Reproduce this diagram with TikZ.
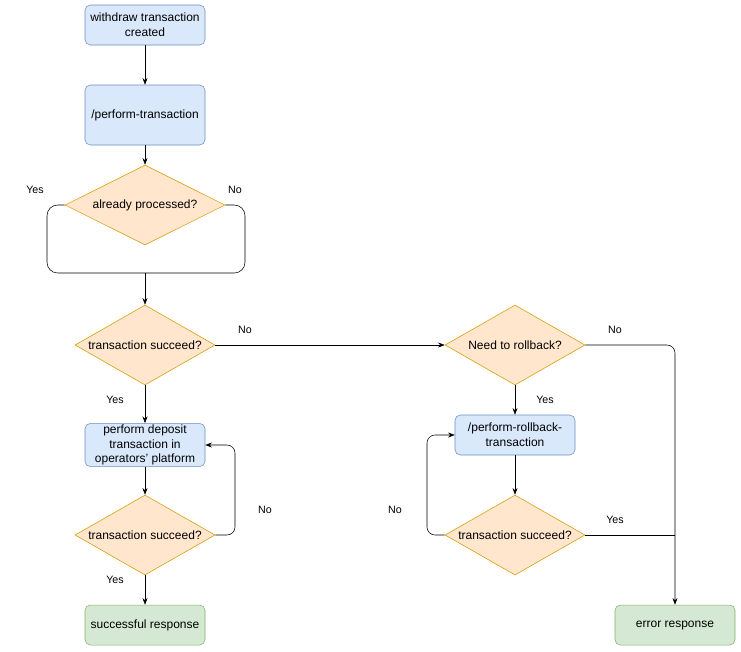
\documentclass[tikz,border=0pt]{standalone}
\usepackage{fontspec}
\setmainfont{Liberation Sans}
\usetikzlibrary{shapes.geometric,arrows.meta}
\definecolor{bfill}{HTML}{DAE8FC}\definecolor{bline}{HTML}{6C8EBF}
\definecolor{ofill}{HTML}{FFE6CC}\definecolor{oline}{HTML}{D79B00}
\definecolor{gfill}{HTML}{D5E8D4}\definecolor{gline}{HTML}{82B366}
\tikzset{
  box/.style={draw=bline,fill=bfill,rounded corners=4pt,minimum width=90pt,align=center,inner sep=1pt},
  okbox/.style={box,draw=gline,fill=gfill},
  dia/.style={diamond,draw=oline,fill=ofill,inner sep=0pt,minimum width=105pt,minimum height=60pt},
  arr/.style={-{Stealth[length=5pt]},rounded corners=6pt},
  lbl/.style={font=\footnotesize}
}
\begin{document}
\begin{tikzpicture}[x=0.75pt,y=-0.75pt,font=\small]
\useasboundingbox (0,0) rectangle (741,651);

\node[box,minimum height=30pt] (created) at (145,25) {withdraw transaction\\created};
\node[box,minimum height=45pt] (perform) at (145,115) {/perform-transaction};
\node[dia,minimum width=120pt,label=center:{already processed?}] (processed) at (145,205) {};
\node[dia,label=center:{transaction succeed?}] (succ1) at (145,345) {};
\node[box,minimum height=30pt] (deposit) at (145,445) {perform deposit\\transaction in\\operators' platform};
\node[dia,label=center:{transaction succeed?}] (succ2) at (145,535) {};
\node[okbox,minimum height=30pt] (success) at (145,625) {successful response};

\node[dia,label=center:{Need to rollback?}] (rollback) at (515,345) {};
\node[box,minimum height=30pt] (perfrb) at (515,435) {/perform-rollback-\\transaction};
\node[dia,label=center:{transaction succeed?}] (succ3) at (515,535) {};
\node[okbox,minimum height=30pt] (error) at (675,625) {error response};

\coordinate (merge) at (145,273);
\coordinate (join) at (675,535);

% left column
\draw[arr] (created) -- (perform);
\draw[arr] (perform) -- (processed);
\draw[rounded corners=8pt] (processed.west) -- (47,205) -- (47,273) -- (merge);
\draw[rounded corners=8pt] (processed.east) -- (245,205) -- (245,273) -- (merge);
\draw[arr] (merge) -- (succ1);
\draw[arr] (succ1) -- (deposit);
\draw[arr] (deposit) -- (succ2);
\draw[arr] (succ2.east) -- (235,535) -- (235,445) -- (deposit.east);
\draw[arr] (succ2) -- (success);

% right column
\draw[arr] (succ1.east) -- (rollback.west);
\draw[arr] (rollback.east) -- (675,345) -- (error.north);
\draw[arr] (rollback) -- (perfrb);
\draw[arr] (perfrb) -- (succ3);
\draw[arr] (succ3.west) -- (427,535) -- (427,435) -- (perfrb.west);
\draw (succ3.east) -- (join);

% labels
\node[lbl] (y1) at (35,190) {Yes};
\node[lbl] (n1) at (235,190) {No};
\node[lbl] (n2) at (245,330) {No};
\node[lbl] (y2) at (115,400) {Yes};
\node[lbl] (n3) at (265,510) {No};
\node[lbl] (y3) at (115,580) {Yes};
\node[lbl] (n4) at (615,330) {No};
\node[lbl] (y4) at (545,400) {Yes};
\node[lbl] (n5) at (395,510) {No};
\node[lbl] (y5) at (615,520) {Yes};
\end{tikzpicture}
\end{document}
